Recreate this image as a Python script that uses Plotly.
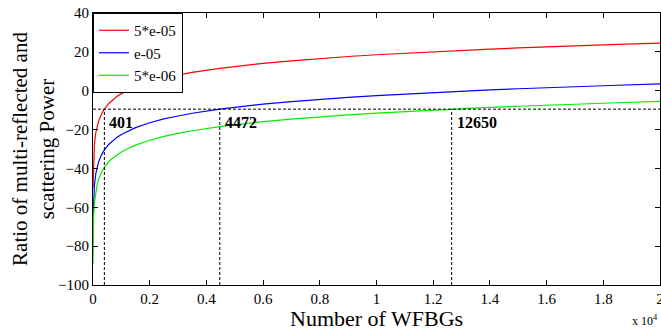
import plotly.graph_objects as go

# Number of WFBGs
n_wfbg = [1, 10, 20, 50, 100, 150, 200, 300, 401, 550, 700, 850, 1000, 1250, 1500, 2000, 2500,
          3000, 3500, 4472, 5000, 6000, 7000, 8000, 9000, 10000, 11000, 12650, 14000, 15000,
          16000, 17500, 18500, 20000]
ratio_5e05 = [-50, -41.5, -35.5, -27.5, -21.5, -18.0, -15.5, -12.0, -9.5, -6.7, -4.6, -2.9, -1.5,
              0.4, 2.0, 4.5, 6.5, 8.0, 9.4, 11.5, 12.5, 14.1, 15.4, 16.6, 17.6, 18.5, 19.3, 20.5,
              21.4, 22.0, 22.6, 23.4, 23.8, 24.5]
ratio_1e05 = [-66, -62.5, -56.5, -48.5, -42.5, -39.0, -36.5, -33.0, -30.5, -27.7, -25.6, -23.9,
              -22.5, -20.6, -19.0, -16.5, -14.5, -13.0, -11.6, -9.5, -8.5, -6.9, -5.6, -4.4, -3.4,
              -2.5, -1.7, -0.5, 0.4, 1.0, 1.6, 2.4, 2.8, 3.5]
ratio_5e06 = [-89, -71.5, -65.5, -57.5, -51.5, -48.0, -45.5, -42.0, -39.5, -36.7, -34.6, -32.9,
              -31.5, -29.6, -28.0, -25.5, -23.5, -22.0, -20.6, -18.5, -17.5, -15.9, -14.6, -13.4,
              -12.4, -11.5, -10.7, -9.5, -8.6, -8.0, -7.4, -6.6, -6.2, -5.5]
series_names = ["5*e-05", "e-05", "5*e-06"]
series_colors = ["#ff0000", "#0000ff", "#00ee00"]

threshold_db = -9.5
crossing_n = [401, 4472, 12650]
crossing_labels = ["401", "4472", "12650"]

x_ticks = [0, 0.2, 0.4, 0.6, 0.8, 1, 1.2, 1.4, 1.6, 1.8, 2]
x_ticktext = ["0", "0.2", "0.4", "0.6", "0.8", "1", "1.2", "1.4", "1.6", "1.8", "2"]
y_ticks = [40, 20, 0, -20, -40, -60, -80, -100]

scale = 1e4
xs = [n / scale for n in n_wfbg]

FONT = "Liberation Serif, Times New Roman, serif"

fig = go.Figure()
for name, ys, col in zip(series_names, [ratio_5e05, ratio_1e05, ratio_5e06], series_colors):
    fig.add_trace(go.Scatter(x=xs, y=ys, mode="lines", name=name,
                             line=dict(color=col, width=1.2)))

dash = "3px,2px"
fig.add_shape(type="line", xref="x", yref="y", x0=0, x1=2, y0=threshold_db, y1=threshold_db,
              line=dict(color="black", width=1, dash=dash))
for n, lab in zip(crossing_n, crossing_labels):
    fig.add_shape(type="line", xref="x", yref="y", x0=n / scale, x1=n / scale, y0=-100, y1=threshold_db,
                  line=dict(color="black", width=1, dash=dash))
    fig.add_annotation(x=n / scale, y=-16.5, xref="x", yref="y", text="<b>%s</b>" % lab,
                       showarrow=False, xanchor="left", xshift=3,
                       font=dict(family=FONT, size=16, color="black"))

axis_common = dict(showline=True, linecolor="black", linewidth=1, mirror="ticks",
                   ticks="inside", ticklen=5, tickcolor="black", showgrid=False, zeroline=False,
                   automargin=False,
                   tickfont=dict(family=FONT, size=15, color="black"))

fig.update_xaxes(range=[0, 2], tickvals=x_ticks, ticktext=x_ticktext,
                 ticklabeloverflow="allow", **axis_common)
fig.update_yaxes(range=[-100, 40], tickvals=y_ticks, **axis_common)

fig.add_annotation(x=0.5, y=-0.07, xref="paper", yref="paper", xanchor="center", yanchor="top",
                   text="Number of WFBGs", showarrow=False,
                   font=dict(family=FONT, size=22, color="black"))
fig.add_annotation(x=-0.106, y=0.5, xref="paper", yref="paper", xanchor="center", yanchor="middle",
                   textangle=-90,
                   text="Ratio of multi-reflected and<br>scattering Power", showarrow=False,
                   font=dict(family=FONT, size=21, color="black"))
fig.add_annotation(x=1.0, y=-0.166, xref="paper", yref="paper", xanchor="right", yanchor="bottom",
                   text="x 10<sup>4</sup>", showarrow=False,
                   font=dict(family=FONT, size=12, color="black"))

fig.update_layout(
    width=661, height=331,
    margin=dict(l=93, r=1, t=13, b=46),
    paper_bgcolor="white", plot_bgcolor="white",
    showlegend=True,
    legend=dict(x=0, y=1, xanchor="left", yanchor="top", bgcolor="white",
                bordercolor="black", borderwidth=1,
                font=dict(family=FONT, size=15, color="black"),
                itemwidth=30, tracegroupgap=0),
    font=dict(family=FONT),
)

fig.write_html("out.html")
